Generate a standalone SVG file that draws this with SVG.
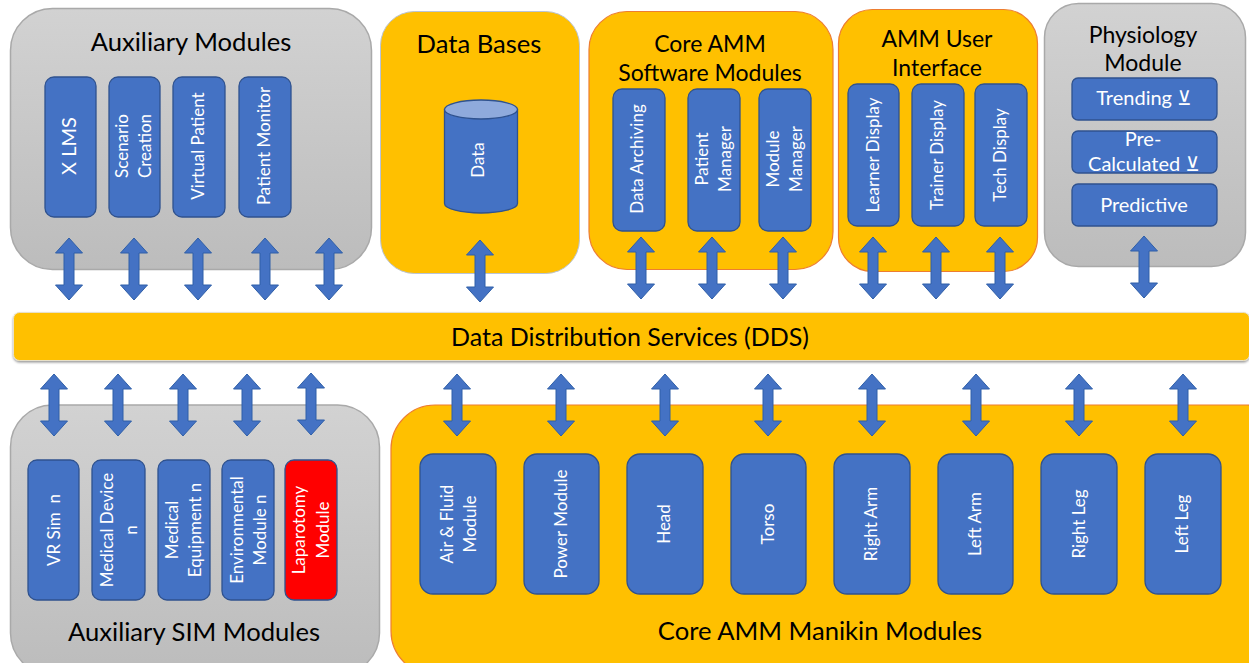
<svg xmlns="http://www.w3.org/2000/svg" width="1249" height="663" viewBox="0 0 1249 663">
<style>
text{font-family:Lato,"Noto Sans","DejaVu Sans",sans-serif}
.gray{fill:url(#g);stroke:#a9a9a9;stroke-width:1.5}
.gold{fill:#ffc000;stroke:#b9c4d8;stroke-width:1}
.goldo{fill:#ffc000;stroke:#ed7d31;stroke-width:1.2}
.m{fill:#4472c4;stroke:#2f528f;stroke-width:1.3}
.r{fill:#ff0000;stroke:#2f528f;stroke-width:1.3}
.a{fill:#4472c4;stroke:#2f5fa8;stroke-width:1}
.t{font-size:25.6px;fill:#000;text-anchor:middle}
.s{font-size:23px;fill:#000;text-anchor:middle}
.w{font-size:17px;fill:#fff;text-anchor:middle;white-space:pre}
.h{font-size:20px;fill:#fff;text-anchor:middle}
</style>
<defs>
<linearGradient id="g" x1="0" y1="0" x2="0" y2="1"><stop offset="0" stop-color="#d2d2d2"/><stop offset="1" stop-color="#bcbcbc"/></linearGradient>
<filter id="sh" x="-2%" y="-20%" width="104%" height="150%"><feDropShadow dx="0" dy="1.5" stdDeviation="1.2" flood-color="#000" flood-opacity="0.4"/></filter>
<path id="arrow" class="a" d="M0-31L13.5-16H5V16H13.5L0 31L-13.5 16H-5V-16H-13.5Z"/>
</defs>

<g id="aux-modules">
<rect class="gray" x="10.500" y="8.500" width="361" height="261" rx="42"/>
<text class="t" x="191" y="51">Auxiliary Modules</text>
<rect class="m" x="45" y="77" width="51" height="140" rx="9"/>
<text class="h" transform="translate(69,146) rotate(-90)" y="7">X LMS</text>
<rect class="m" x="109" y="77" width="51" height="140" rx="9"/>
<text class="w" transform="translate(122,146) rotate(-90)" y="6">Scenario</text>
<text class="w" transform="translate(145,146) rotate(-90)" y="6">Creation</text>
<rect class="m" x="173" y="77" width="52" height="140" rx="9"/>
<text class="w" transform="translate(198,146) rotate(-90)" y="6">Virtual Patient</text>
<rect class="m" x="239" y="77" width="52" height="140" rx="9"/>
<text class="w" transform="translate(264,146) rotate(-90)" y="6">Patient Monitor</text>
</g>

<g id="data-bases">
<rect class="gold" x="380.500" y="11.500" width="199" height="262" rx="34"/>
<text class="t" x="479" y="53">Data Bases</text>
<path class="m" d="M444.500 109.500V203.500A36.500 9.500 0 0 0 517.500 203.500V109.500Z"/>
<ellipse cx="481" cy="109.500" rx="36.500" ry="9.500" fill="#8faadc" stroke="#2f528f" stroke-width="1.300"/>
<text class="w" transform="translate(478,160) rotate(-90)" y="6">Data</text>
</g>

<g id="core-software">
<rect class="goldo" x="589" y="11.500" width="244" height="258" rx="38"/>
<text class="s" x="710" y="52">Core AMM</text>
<text class="s" x="710" y="81">Software Modules</text>
<rect class="m" x="613" y="89" width="52" height="142" rx="9"/>
<text class="w" transform="translate(637,159) rotate(-90)" y="6">Data Archiving</text>
<rect class="m" x="688" y="89" width="52" height="142" rx="9"/>
<text class="w" transform="translate(702,159) rotate(-90)" y="6">Patient</text>
<text class="w" transform="translate(725,159) rotate(-90)" y="6">Manager</text>
<rect class="m" x="759" y="89" width="52" height="142" rx="9"/>
<text class="w" transform="translate(773,159) rotate(-90)" y="6">Module</text>
<text class="w" transform="translate(796,159) rotate(-90)" y="6">Manager</text>
</g>

<g id="user-interface">
<rect class="goldo" x="838.500" y="9.500" width="199" height="262" rx="34"/>
<text class="s" x="937" y="47">AMM User</text>
<text class="s" x="937" y="76">Interface</text>
<rect class="m" x="848" y="84" width="51" height="142" rx="9"/>
<text class="w" transform="translate(873,155) rotate(-90)" y="6">Learner Display</text>
<rect class="m" x="912" y="84" width="52" height="142" rx="9"/>
<text class="w" transform="translate(937,155) rotate(-90)" y="6">Trainer Display</text>
<rect class="m" x="975" y="84" width="52" height="142" rx="9"/>
<text class="w" transform="translate(1000,155) rotate(-90)" y="6">Tech Display</text>
</g>

<g id="physiology">
<rect class="gray" x="1044.500" y="3.500" width="201" height="263" rx="34"/>
<text class="s" x="1143" y="43">Physiology</text>
<text class="s" x="1143" y="71">Module</text>
<rect class="m" x="1072" y="78" width="145" height="42" rx="6"/>
<text class="h" x="1144" y="105">Trending ⊻</text>
<rect class="m" x="1072" y="131" width="145" height="42" rx="6"/>
<text class="h" x="1143" y="146">Pre-</text>
<text class="h" x="1144" y="171">Calculated ⊻</text>
<rect class="m" x="1072" y="184" width="145" height="42" rx="6"/>
<text class="h" x="1144" y="212">Predictive</text>
</g>

<g id="dds">
<rect x="13.500" y="312.500" width="1236" height="48" rx="6" fill="#ffc000" stroke="#e8e0c8" stroke-width="1" filter="url(#sh)"/>
<text class="t" x="630" y="346" style="font-size:25px">Data Distribution Services (DDS)</text>
</g>

<g id="aux-sim-modules">
<rect class="gray" x="10.500" y="405" width="369" height="270" rx="42"/>
<rect class="m" x="28" y="460" width="51" height="140" rx="9"/>
<text class="w" transform="translate(54,530) rotate(-90)" y="6">VR Sim  n</text>
<rect class="m" x="92" y="460" width="53" height="140" rx="9"/>
<text class="w" transform="translate(107,530) rotate(-90)" y="6">Medical Device</text>
<text class="w" transform="translate(131,530) rotate(-90)" y="6">n</text>
<rect class="m" x="158" y="460" width="52" height="140" rx="9"/>
<text class="w" transform="translate(172,530) rotate(-90)" y="6">Medical</text>
<text class="w" transform="translate(195,530) rotate(-90)" y="6">Equipment n</text>
<rect class="m" x="222" y="460" width="52" height="140" rx="9"/>
<text class="w" transform="translate(237,530) rotate(-90)" y="6">Environmental</text>
<text class="w" transform="translate(260,530) rotate(-90)" y="6">Module n</text>
<rect class="r" x="285" y="460" width="52" height="140" rx="9"/>
<text class="w" transform="translate(299,530) rotate(-90)" y="6">Laparotomy</text>
<text class="w" transform="translate(323,530) rotate(-90)" y="6">Module</text>
<text class="t" x="194" y="641">Auxiliary SIM Modules</text>
</g>

<g id="core-manikin-modules">
<rect class="goldo" x="391" y="405" width="900" height="270" rx="44"/>
<rect class="m" x="420" y="454" width="76" height="140" rx="13"/>
<text class="w" transform="translate(447,524) rotate(-90)" y="6">Air &amp; Fluid</text>
<text class="w" transform="translate(470,524) rotate(-90)" y="6">Module</text>
<rect class="m" x="524" y="454" width="75" height="140" rx="13"/>
<text class="w" transform="translate(561,524) rotate(-90)" y="6">Power Module</text>
<rect class="m" x="627" y="454" width="76" height="140" rx="13"/>
<text class="w" transform="translate(664,524) rotate(-90)" y="6">Head</text>
<rect class="m" x="731" y="454" width="75" height="140" rx="13"/>
<text class="w" transform="translate(768,524) rotate(-90)" y="6">Torso</text>
<rect class="m" x="834" y="454" width="76" height="140" rx="13"/>
<text class="w" transform="translate(871,524) rotate(-90)" y="6">Right Arm</text>
<rect class="m" x="938" y="454" width="75" height="140" rx="13"/>
<text class="w" transform="translate(975,524) rotate(-90)" y="6">Left Arm</text>
<rect class="m" x="1041" y="454" width="76" height="140" rx="13"/>
<text class="w" transform="translate(1079,524) rotate(-90)" y="6">Right Leg</text>
<rect class="m" x="1145" y="454" width="76" height="140" rx="13"/>
<text class="w" transform="translate(1182,524) rotate(-90)" y="6">Left Leg</text>
<text class="t" x="820" y="640">Core AMM Manikin Modules</text>
</g>

<g id="connectors">
<use href="#arrow" x="69" y="269"/>
<use href="#arrow" x="134" y="269"/>
<use href="#arrow" x="198" y="269"/>
<use href="#arrow" x="265" y="269"/>
<use href="#arrow" x="329" y="269"/>
<use href="#arrow" x="480" y="271"/>
<use href="#arrow" x="641" y="268"/>
<use href="#arrow" x="712" y="268"/>
<use href="#arrow" x="783" y="268"/>
<use href="#arrow" x="873" y="268"/>
<use href="#arrow" x="936" y="268"/>
<use href="#arrow" x="1000" y="268"/>
<use href="#arrow" x="1144" y="267"/>
<use href="#arrow" x="54" y="405"/>
<use href="#arrow" x="118" y="405"/>
<use href="#arrow" x="183" y="405"/>
<use href="#arrow" x="247" y="405"/>
<use href="#arrow" x="311" y="404"/>
<use href="#arrow" x="457" y="405"/>
<use href="#arrow" x="561" y="405"/>
<use href="#arrow" x="665" y="405"/>
<use href="#arrow" x="768" y="405"/>
<use href="#arrow" x="872" y="405"/>
<use href="#arrow" x="976" y="405"/>
<use href="#arrow" x="1079" y="405"/>
<use href="#arrow" x="1183" y="405"/>
</g>
</svg>
